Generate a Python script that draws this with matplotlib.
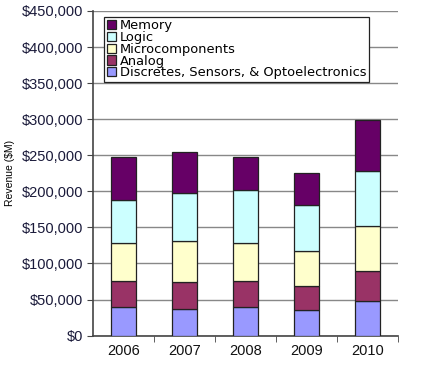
import matplotlib.pyplot as plt
import numpy as np
from matplotlib.ticker import FuncFormatter

plt.rcParams['font.family'] = ['Liberation Sans', 'DejaVu Sans']

years = ['2006', '2007', '2008', '2009', '2010']
discretes = [39000, 37500, 39500, 36000, 48500]
analog = [36500, 37000, 36000, 32500, 41500]
micro = [53500, 56000, 53500, 48500, 61500]
logic = [59500, 67000, 72500, 64500, 77000]
memory = [58500, 57500, 45500, 44500, 70000]

series = [
    ('Discretes, Sensors, & Optoelectronics', discretes, '#9999FF'),
    ('Analog', analog, '#993366'),
    ('Microcomponents', micro, '#FFFFCC'),
    ('Logic', logic, '#CCFFFF'),
    ('Memory', memory, '#660066'),
]

fig = plt.figure(figsize=(4.26, 3.66), dpi=100)
ax = fig.add_axes([0.218, 0.083, 0.716, 0.887])

x = np.arange(len(years))
bottom = np.zeros(len(years))
for name, vals, col in series:
    ax.bar(x, vals, 0.4, bottom=bottom, color=col, edgecolor='#222222',
           linewidth=0.9, label=name, zorder=3)
    bottom += np.array(vals)

ax.set_xlim(-0.5, len(years) - 0.5)
ax.set_ylim(0, 450000)
ax.set_yticks(np.arange(0, 450001, 50000))
ax.yaxis.set_major_formatter(FuncFormatter(lambda v, p: '${:,.0f}'.format(v)))
ax.set_xticks(x)
ax.set_xticklabels(years)
ax.set_xticks(np.arange(0.5, len(years) - 0.5 + 0.01, 1), minor=True)
ax.tick_params(axis='x', which='major', length=0, labelsize=10.5, pad=6)
ax.tick_params(axis='x', which='minor', length=4, color='#444444', direction='out')
ax.tick_params(axis='y', length=4, color='#444444', labelsize=10.5, labelcolor='#1a1a3a', pad=3)
ax.tick_params(axis='x', labelcolor='#111111')

ax.grid(axis='y', color='#888888', linewidth=1.0, zorder=0)
for s in ['top', 'right']:
    ax.spines[s].set_visible(False)
ax.spines['left'].set_color('#444444')
ax.spines['bottom'].set_color('#444444')
ax.spines['left'].set_linewidth(1.2)
ax.spines['bottom'].set_linewidth(1.2)

ax.set_ylabel('Revenue ($M)', fontsize=7.5, labelpad=2)
ax.yaxis.set_label_coords(-0.255, 0.5)

# legend: wider sans so the box spans like the reference while rows stay tight
handles, labels = ax.get_legend_handles_labels()
leg = ax.legend(handles[::-1], labels[::-1], loc='upper left',
                bbox_to_anchor=(0.038, 0.982), frameon=True,
                prop={'family': 'DejaVu Sans', 'size': 9.4},
                fancybox=False, edgecolor='#222222', framealpha=1,
                handlelength=0.7, handleheight=0.7, handletextpad=0.3,
                labelspacing=-0.1, borderpad=0.2, borderaxespad=0)
leg.get_frame().set_linewidth(0.9)
leg.set_zorder(5)

fig.savefig('out.png', dpi=100)
